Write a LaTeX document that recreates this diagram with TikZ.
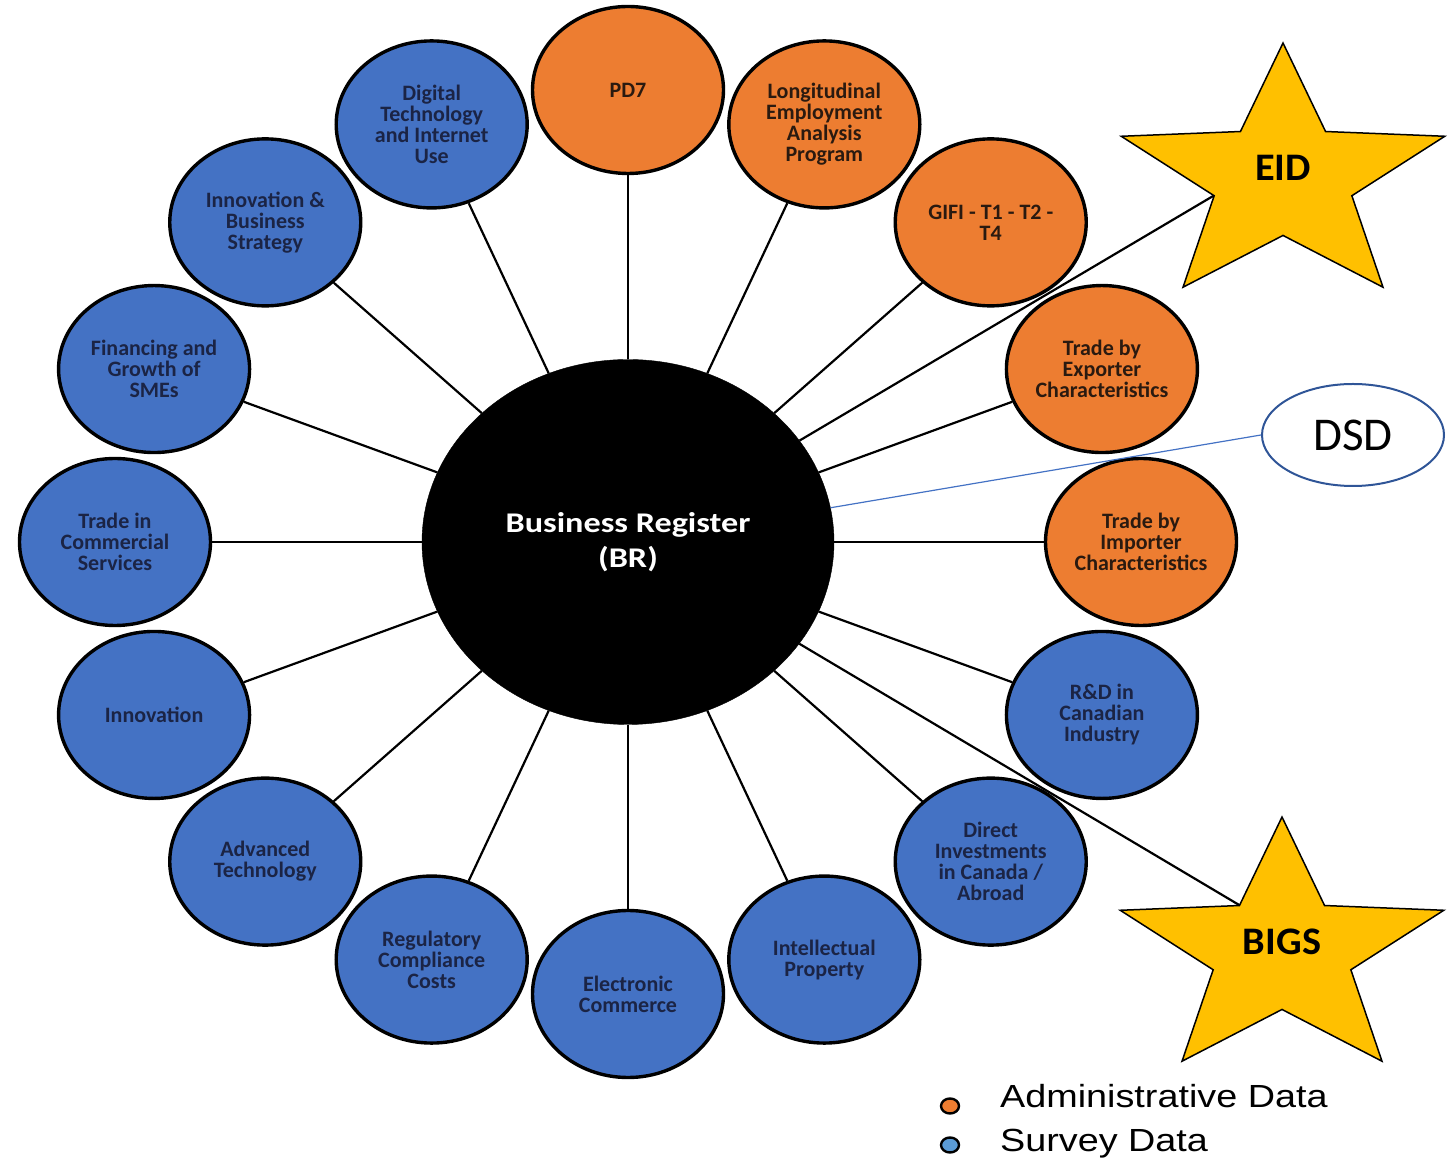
\documentclass[tikz,border=0pt]{standalone}
\usepackage{fontspec}
\setmainfont{Carlito}
\newfontfamily\wideCarlito{Carlito}[FakeStretch=1.2]
\newfontfamily\narrowCarlito{Carlito}[FakeStretch=0.82]
\newfontfamily\legendfont{Liberation Sans}[FakeStretch=1.18]
\usetikzlibrary{shapes.geometric}

\definecolor{admincol}{HTML}{ED7D31}
\definecolor{surveycol}{HTML}{4472C4}
\definecolor{starcol}{HTML}{FFC000}
\definecolor{dsdline}{HTML}{2F5597}
\definecolor{dsdlink}{HTML}{4472C4}
\definecolor{navytext}{HTML}{1B2445}
\definecolor{browntext}{HTML}{2A1A10}
\definecolor{legendblue}{HTML}{5B9BD5}

\tikzset{
  sat/.style={ellipse, draw=black, line width=3.4pt, minimum width=191pt,
    minimum height=167pt, inner sep=0pt, align=center,
    font=\fontsize{22}{21}\selectfont\bfseries},
  admin/.style={sat, fill=admincol, text=browntext},
  survey/.style={sat, fill=surveycol, text=navytext},
  hub/.style={ellipse, draw=black, fill=black, minimum width=412pt,
    minimum height=365pt, text=white, align=center,
    font=\fontsize{28.5}{35}\wideCarlito\bfseries},
  spoke/.style={line width=2.2pt},
  goldstar/.style={star, star points=5, star point ratio=2.35,
    minimum size=270pt, inner sep=0pt, fill=starcol, draw=black,
    line width=1.5pt, transform shape, text depth=20pt,
    font=\fontsize{39}{39}\narrowCarlito\bfseries},
  legdot/.style={ellipse, draw=black, line width=2.4pt, minimum width=18pt,
    minimum height=15pt, inner sep=0pt},
  legtext/.style={anchor=base west, inner sep=0pt,
    font=\fontsize{32}{32}\legendfont},
}

\begin{document}
\begin{tikzpicture}[x=1pt,y=1pt]
  \useasboundingbox (0,0) rectangle (1451,1165);

  % hub and the sixteen data sources around it
  \node[hub] (br) at (628,623) {Business Register\\(BR)};

  \node[admin] (pd7) at ([shift={(90:513 and 452)}]br) {PD7};
  \node[admin] (leap) at ([shift={(67.5:513 and 452)}]br) {Longitudinal\\Employment\\Analysis\\Program};
  \node[admin] (gifi) at ([shift={(45:513 and 452)}]br) {GIFI - T1 - T2 -\\T4};
  \node[admin] (exporter) at ([shift={(22.5:513 and 452)}]br) {Trade by\\Exporter\\Characteristics};
  \node[admin] (importer) at ([shift={(0:513 and 452)}]br) {Trade by\\Importer\\Characteristics};
  \node[survey] (rnd) at ([shift={(-22.5:513 and 452)}]br) {R\&D in\\Canadian\\Industry};
  \node[survey] (fdi) at ([shift={(-45:513 and 452)}]br) {Direct\\Investments\\in Canada /\\Abroad};
  \node[survey] (ip) at ([shift={(-67.5:513 and 452)}]br) {Intellectual\\Property};
  \node[survey] (ecomm) at ([shift={(-90:513 and 452)}]br) {Electronic\\Commerce};
  \node[survey] (regcost) at ([shift={(-112.5:513 and 452)}]br) {Regulatory\\Compliance\\Costs};
  \node[survey] (advtech) at ([shift={(-135:513 and 452)}]br) {Advanced\\Technology};
  \node[survey] (innov) at ([shift={(-157.5:513 and 452)}]br) {Innovation};
  \node[survey] (tradeserv) at ([shift={(180:513 and 452)}]br) {Trade in\\Commercial\\Services};
  \node[survey] (financing) at ([shift={(157.5:513 and 452)}]br) {Financing and\\Growth of\\SMEs};
  \node[survey] (strategy) at ([shift={(135:513 and 452)}]br) {Innovation \&\\Business\\Strategy};
  \node[survey] (digital) at ([shift={(112.5:513 and 452)}]br) {Digital\\Technology\\and Internet\\Use};

  \foreach \s in {pd7,leap,gifi,exporter,importer,rnd,fdi,ip,ecomm,regcost,advtech,innov,tradeserv,financing,strategy,digital}
    \draw[spoke] (br) -- (\s);

  % linked files
  \begin{scope}[shift={(1283,987)},xscale=1.26]
    \node[goldstar] (eid) at (0,0) {EID};
  \end{scope}
  \begin{scope}[shift={(1282,213)},xscale=1.26]
    \node[goldstar] (bigs) at (0,0) {BIGS};
  \end{scope}
  \node[ellipse, draw=dsdline, line width=2pt, minimum width=182pt,
    minimum height=102pt, inner sep=0pt, font=\fontsize{47}{47}\selectfont] (dsd) at (1353,730) {DSD};

  \draw[spoke] (br) -- (eid.inner point 2);
  \draw[spoke] (br) -- (bigs.inner point 1);
  \draw[dsdlink, line width=1.2pt] (br) -- (dsd.west);

  % legend
  \node[legdot, fill=admincol] (admdot) at (950,59) {};
  \node[legtext] (admtext) at (1000,58) {Administrative Data};
  \node[legdot, fill=legendblue] (survdot) at (950,20) {};
  \node[legtext] (survtext) at (1000,14) {Survey Data};
\end{tikzpicture}
\end{document}
